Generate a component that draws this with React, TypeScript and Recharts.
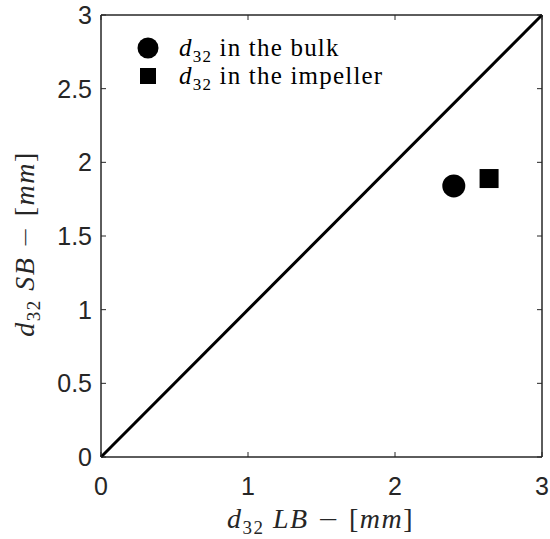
import { ReferenceArea, Scatter, ScatterChart, XAxis, YAxis } from "recharts";

const xTicks = [0, 1, 2, 3];
const yTicks = [0, 0.5, 1, 1.5, 2, 2.5, 3];
const parity = [
  { x: 0, y: 0 },
  { x: 3, y: 3 },
];
const bulk = [{ x: 2.4, y: 1.84 }];
const impeller = [{ x: 2.64, y: 1.89 }];
const seriesNames = ["in the bulk", "in the impeller"];

const AX = "#262626";
const TICK_FONT = "'Liberation Sans', Arial, sans-serif";
const SERIF = "'Liberation Serif', 'DejaVu Serif', serif";

const fmt = (v: number) => String(v);

function BottomTick(props: any) {
  const { x, y, payload } = props;
  return (
    <g>
      <line x1={x} y1={y} x2={x} y2={y - 5} stroke={AX} />
      <text x={x} y={y + 38} textAnchor="middle" fontSize={25} fontFamily={TICK_FONT} fill={AX}>
        {fmt(payload.value)}
      </text>
    </g>
  );
}

function TopTick(props: any) {
  const { x, y } = props;
  return <line x1={x} y1={y} x2={x} y2={y + 5} stroke={AX} />;
}

function LeftTick(props: any) {
  const { x, y, payload } = props;
  return (
    <g>
      <line x1={x} y1={y} x2={x + 5} y2={y} stroke={AX} />
      <text x={x - 9} y={y + 9} textAnchor="end" fontSize={25} fontFamily={TICK_FONT} fill={AX}>
        {fmt(payload.value)}
      </text>
    </g>
  );
}

function RightTick(props: any) {
  const { x, y } = props;
  return <line x1={x} y1={y} x2={x - 5} y2={y} stroke={AX} />;
}

function MathLabel({ sym }: { sym: string }) {
  return (
    <>
      <tspan fontStyle="italic">d</tspan>
      <tspan fontSize={19} dy={6}>32</tspan>
      <tspan dy={-6} fontStyle="italic"> {sym} </tspan>
      <tspan fontFamily="'DejaVu Sans', sans-serif" fontWeight={300} fontSize={26}>−</tspan>
      <tspan> [</tspan>
      <tspan fontStyle="italic">mm</tspan>
      <tspan>]</tspan>
    </>
  );
}

function XLabel(props: any) {
  const { x, y, width } = props.viewBox;
  return (
    <text
      x={x + width / 2 - 1}
      y={y + 71}
      textAnchor="middle"
      fontSize={28}
      fontFamily={SERIF}
      fill={AX}
      letterSpacing={1.5}
      style={{ whiteSpace: "pre" }}
    >
      <MathLabel sym="LB" />
    </text>
  );
}

function YLabel(props: any) {
  const { y, height } = props.viewBox;
  const cx = 34;
  const cy = y + height / 2 + 8;
  return (
    <text
      x={cx}
      y={cy}
      textAnchor="middle"
      fontSize={28}
      fontFamily={SERIF}
      fill={AX}
      letterSpacing={1.5}
      style={{ whiteSpace: "pre" }}
      transform={`rotate(-90, ${cx}, ${cy})`}
    >
      <MathLabel sym="SB" />
    </text>
  );
}

const Dot = (p: any) => <circle cx={p.cx} cy={p.cy} r={11.5} fill="#000" />;
const Square = (p: any) => <rect x={p.cx - 9.5} y={p.cy - 9.5} width={19} height={19} fill="#000" />;
const NoShape = () => <g />;

function LegendBox() {
  const row = (marker: React.ReactNode, name: string) => (
    <div style={{ display: "flex", alignItems: "center", height: 28 }}>
      <svg width={24} height={24} style={{ marginRight: 19 }}>
        {marker}
      </svg>
      <span
        style={{ fontFamily: SERIF, fontSize: 25, letterSpacing: 1.2, color: "#000", whiteSpace: "nowrap" }}
      >
        <i>d</i>
        <sub style={{ fontSize: 17, lineHeight: 0 }}>32</sub> {name}
      </span>
    </div>
  );
  return (
    <div style={{ position: "absolute", left: 136, top: 34 }}>
      {row(<circle cx={12} cy={12} r={10.5} fill="#000" />, seriesNames[0])}
      {row(<rect x={4} y={4} width={16} height={16} fill="#000" />, seriesNames[1])}
    </div>
  );
}

export default function App() {
  return (
    <div style={{ position: "absolute", left: 0, top: 0, width: 550, height: 539, background: "#fff" }}>
      <ScatterChart width={550} height={539} margin={{ top: 0, right: 0, bottom: 0, left: 0 }}>
        <XAxis
          xAxisId="b"
          type="number"
          dataKey="x"
          domain={[0, 3]}
          ticks={xTicks}
          height={82}
          stroke={AX}
          tickSize={0}
          tickMargin={0}
          tick={<BottomTick />}
          label={<XLabel />}
        />
        <XAxis
          xAxisId="t"
          orientation="top"
          type="number"
          dataKey="x"
          domain={[0, 3]}
          ticks={xTicks}
          height={15}
          stroke={AX}
          tickSize={0}
          tickMargin={0}
          tick={<TopTick />}
        />
        <YAxis
          yAxisId="l"
          type="number"
          dataKey="y"
          domain={[0, 3]}
          ticks={yTicks}
          width={101}
          stroke={AX}
          tickSize={0}
          tickMargin={0}
          tick={<LeftTick />}
          label={<YLabel />}
        />
        <YAxis
          yAxisId="r"
          orientation="right"
          type="number"
          dataKey="y"
          domain={[0, 3]}
          ticks={yTicks}
          width={8}
          stroke={AX}
          tickSize={0}
          tickMargin={0}
          tick={<RightTick />}
        />
        <ReferenceArea
          xAxisId="b"
          yAxisId="l"
          x1={0}
          x2={3}
          y1={0}
          y2={3}
          fill="none"
          stroke={AX}
          strokeWidth={1}
          ifOverflow="visible"
        />
        <Scatter
          xAxisId="t"
          yAxisId="r"
          data={parity}
          line={{ stroke: "#000", strokeWidth: 3 }}
          shape={NoShape}
          isAnimationActive={false}
        />
        <Scatter xAxisId="b" yAxisId="l" data={bulk} shape={Dot} isAnimationActive={false} />
        <Scatter xAxisId="b" yAxisId="l" data={impeller} shape={Square} isAnimationActive={false} />
      </ScatterChart>
      <LegendBox />
    </div>
  );
}
